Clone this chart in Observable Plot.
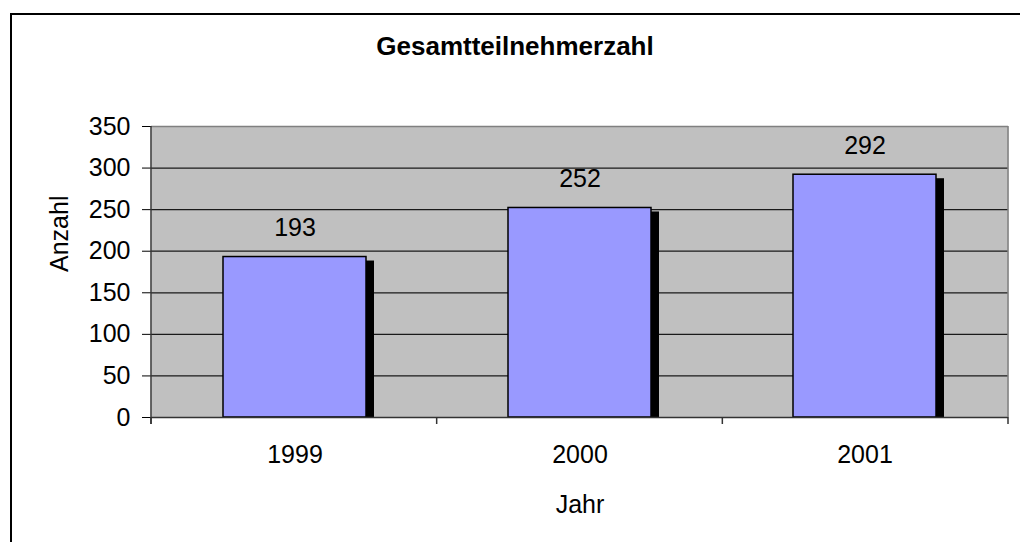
<!DOCTYPE html>
<html>
<head>
<meta charset="utf-8">
<script src="https://cdn.jsdelivr.net/npm/d3@7"></script>
<script src="https://cdn.jsdelivr.net/npm/@observablehq/plot@0.6"></script>
<style>
  html, body { margin: 0; padding: 0; background: #fff; overflow: hidden; }
  #wrap { position: relative; width: 1020px; height: 542px; }
  #chart { position: absolute; left: 0; top: 0; }
  #border { position: absolute; left: 10px; top: 13px; width: 2000px; height: 2000px;
            border-left: 2px solid #000; border-top: 2px solid #000; pointer-events: none; }
</style>
</head>
<body>
<div id="wrap"><div id="chart"></div><div id="border"></div></div>
<script>
const years = ["1999", "2000", "2001"];
const counts = [193, 252, 292];
const yTicks = [0, 50, 100, 150, 200, 250, 300, 350];
const title = "Gesamtteilnehmerzahl";
const xLabel = "Jahr";
const yLabel = "Anzahl";

const data = years.map((year, i) => ({year, count: counts[i]}));
const gridValues = yTicks.filter(v => v > 0 && v < d3.max(yTicks));

// decorative axis lines & category-boundary ticks (computed from plot dimensions)
function axisLines(index, scales, values, dims) {
  const g = d3.create("svg:g");
  const x0 = dims.marginLeft, x1 = dims.width - dims.marginRight;
  const y0 = dims.marginTop, yb = dims.height - dims.marginBottom;
  // right border (gray)
  g.append("line").attr("x1", x1).attr("x2", x1).attr("y1", y0).attr("y2", yb)
    .attr("stroke", "#808080").attr("stroke-width", 1.5);
  // boundary ticks below the axis
  const n = years.length;
  for (let i = 0; i <= n; i++) {
    const x = x0 + (x1 - x0) * i / n;
    g.append("line").attr("x1", x).attr("x2", x).attr("y1", yb).attr("y2", yb + 7)
      .attr("stroke", "#333").attr("stroke-width", 1.5);
  }
  // left axis line
  g.append("line").attr("x1", x0).attr("x2", x0).attr("y1", y0).attr("y2", yb + 7)
    .attr("stroke", "#333").attr("stroke-width", 1.5);
  return g.node();
}

const chart = Plot.plot({
  width: 1020,
  height: 542,
  marginLeft: 151,
  marginRight: 12,
  marginTop: 126,
  marginBottom: 125,
  style: {fontFamily: "'Liberation Sans', Arial, sans-serif", fontSize: "25px", color: "#000", background: "transparent"},
  x: {domain: years, paddingInner: 0.5, paddingOuter: 0.25, tickSize: 0, tickPadding: 28, label: null},
  y: {domain: [0, 350], ticks: yTicks, tickSize: 9, tickPadding: 12, label: null},
  marks: [
    Plot.frame({fill: "#c0c0c0", stroke: null}),
    Plot.ruleY(gridValues, {stroke: "#1a1a1a", strokeWidth: 1.2}),
    Plot.ruleY([d3.max(yTicks)], {stroke: "#808080", strokeWidth: 1.5}),
    Plot.barY(data, {x: "year", y: "count", fill: "#000", dx: 8, dy: 4, clip: "frame"}),
    Plot.barY(data, {x: "year", y: "count", fill: "#9999ff", stroke: "#000", strokeWidth: 1.5}),
    Plot.ruleY([0], {stroke: "#333", strokeWidth: 1.5}),
    axisLines,
    Plot.text(data, {x: "year", y: "count", text: d => String(d.count), lineAnchor: "bottom", dy: -21, fontSize: 25, fill: "#000"}),
    Plot.text([title], {frameAnchor: "top", lineAnchor: "bottom", dy: -72, dx: -65, fontSize: 26, fontWeight: "bold", fill: "#000"}),
    Plot.text([xLabel], {frameAnchor: "bottom", lineAnchor: "bottom", dy: 95, fontSize: 25, fill: "#000"}),
    Plot.text([yLabel], {frameAnchor: "left", lineAnchor: "bottom", rotate: -90, dx: -84, fontSize: 25, fill: "#000"})
  ]
});
document.getElementById("chart").appendChild(chart);
</script>
</body>
</html>
